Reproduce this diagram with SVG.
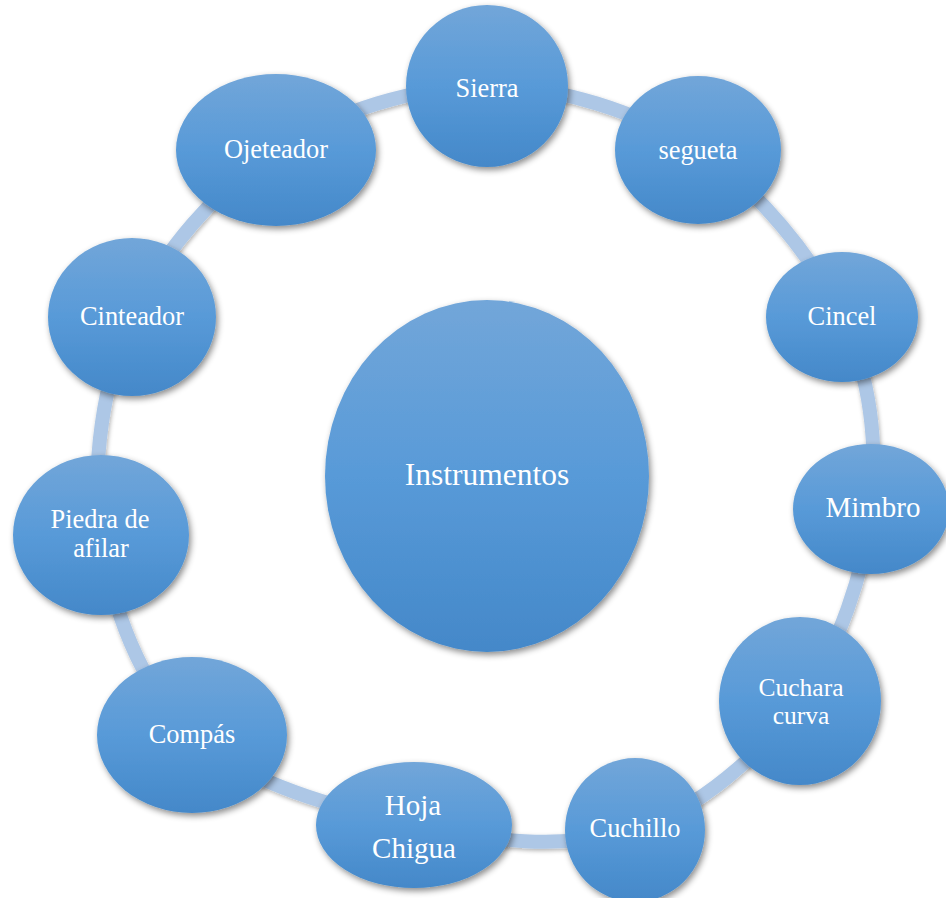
<svg xmlns="http://www.w3.org/2000/svg" width="946" height="898" viewBox="0 0 946 898">
<defs>
<linearGradient id="g" x1="0" y1="0" x2="0" y2="1">
<stop offset="0" stop-color="#72a6d9"/>
<stop offset="0.5" stop-color="#589ad8"/>
<stop offset="1" stop-color="#4488c9"/>
</linearGradient>
<filter id="sh" x="-20%" y="-20%" width="140%" height="140%">
<feDropShadow dx="2" dy="3" stdDeviation="3" flood-color="#000" flood-opacity="0.45"/>
</filter>
<filter id="rsh" x="-10%" y="-10%" width="120%" height="120%">
<feDropShadow dx="1" dy="2" stdDeviation="2" flood-color="#000" flood-opacity="0.3"/>
</filter>
</defs>
<style>
.n{fill:url(#g);filter:url(#sh)}
.t{fill:#fff;font-size:26.4px;text-anchor:middle}
.ring{fill:none;stroke:#adc7e6;stroke-width:14;filter:url(#rsh)}
</style>
<rect width="946" height="898" fill="#fff"/>
<g id="connectors">
<path class="ring" d="M487,86 C557.3,86 638.8,111.5 698,150 C757.2,188.5 813.2,257.2 842,317 C870.8,376.8 878,445 871,509 C864,573 839.3,647.5 800,701 C760.7,754.5 699.3,809.3 635,830 C561.2,850.7 487.8,840.8 414,825 C340.2,809.2 244.2,783.3 192,735 C139.8,686.7 111,604.7 101,535 C91,465.3 102.8,381.2 132,317 C161.2,252.8 216.8,188.5 276,150 C335.2,111.5 416.7,86 487,86 Z"/>
</g>
<g font-family="'Liberation Serif', 'Times New Roman', 'DejaVu Serif', serif">
<g id="center">
<ellipse class="n" cx="487" cy="476" rx="162" ry="176"/>
<text class="t" x="487" y="485" style="font-size:31.5px">Instrumentos</text>
</g>
<g id="sierra">
<ellipse class="n" cx="487" cy="86" rx="81" ry="81"/>
<text class="t" x="487" y="97">Sierra</text>
</g>
<g id="segueta">
<ellipse class="n" cx="698" cy="150" rx="83" ry="74"/>
<text class="t" x="698" y="159">segueta</text>
</g>
<g id="cincel">
<ellipse class="n" cx="842" cy="317" rx="76" ry="65"/>
<text class="t" x="842" y="325">Cincel</text>
</g>
<g id="mimbro">
<ellipse class="n" cx="871" cy="509" rx="78" ry="65"/>
<text class="t" x="873" y="517" style="font-size:29px">Mimbro</text>
</g>
<g id="cuchara">
<ellipse class="n" cx="800" cy="701" rx="81" ry="84"/>
<text class="t" x="801" y="696" style="font-size:25.5px">Cuchara</text>
<text class="t" x="801" y="724" style="font-size:25.5px">curva</text>
</g>
<g id="cuchillo">
<ellipse class="n" cx="635" cy="830" rx="70" ry="72"/>
<text class="t" x="635" y="837">Cuchillo</text>
</g>
<g id="hoja">
<ellipse class="n" cx="414" cy="825" rx="98" ry="63"/>
<text class="t" x="413" y="815" style="font-size:29px">Hoja</text>
<text class="t" x="414" y="858" style="font-size:29px">Chigua</text>
</g>
<g id="compas">
<ellipse class="n" cx="192" cy="735" rx="95" ry="78"/>
<text class="t" x="192" y="743">Compás</text>
</g>
<g id="piedra">
<ellipse class="n" cx="101" cy="535" rx="88" ry="80"/>
<text class="t" x="100" y="528">Piedra de</text>
<text class="t" x="101" y="557">afilar</text>
</g>
<g id="cinteador">
<ellipse class="n" cx="132" cy="317" rx="84" ry="79"/>
<text class="t" x="132" y="325">Cinteador</text>
</g>
<g id="ojeteador">
<ellipse class="n" cx="276" cy="150" rx="100" ry="76"/>
<text class="t" x="276" y="158">Ojeteador</text>
</g>
</g>
</svg>
